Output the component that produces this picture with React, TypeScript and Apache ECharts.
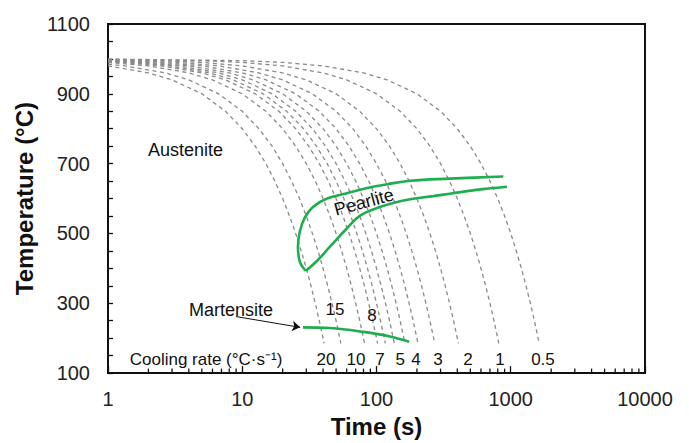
import React, { useEffect, useRef } from 'react';
import * as echarts from 'echarts';

const FONT = 'Arial, "Liberation Sans", Helvetica, sans-serif';

// Cooling rates (°C/s) of the dashed curves
const coolingRates = [20, 15, 10, 8, 7, 6, 5, 4, 3, 2, 1, 0.5];

// Dashed cooling curves, [time (s), temperature (°C)]
const curve20 = [[1, 980], [2, 960], [3, 940], [5, 900], [7.5, 850], [10, 800], [12.5, 750], [15, 700], [17.5, 650], [20, 600], [22.5, 550], [25, 500], [27.5, 450], [30, 400], [32.5, 350], [35, 300], [37.5, 250], [40.75, 185]];
const curve15 = [[1, 985], [1.33, 980], [2.67, 960], [4, 940], [6.67, 900], [10, 850], [13.3, 800], [16.7, 750], [20, 700], [23.3, 650], [26.7, 600], [30, 550], [33.3, 500], [36.7, 450], [40, 400], [43.3, 350], [46.7, 300], [50, 250], [54.3, 185]];
const curve10 = [[1, 990], [2, 980], [4, 960], [6, 940], [10, 900], [15, 850], [20, 800], [25, 750], [30, 700], [35, 650], [40, 600], [45, 550], [50, 500], [55, 450], [60, 400], [65, 350], [70, 300], [75, 250], [81.5, 185]];
const curve8 = [[1, 992], [1.25, 990], [2.5, 980], [5, 960], [7.5, 940], [12.5, 900], [18.75, 850], [25, 800], [31.25, 750], [37.5, 700], [43.75, 650], [50, 600], [56.25, 550], [62.5, 500], [68.75, 450], [75, 400], [81.25, 350], [87.5, 300], [93.75, 250], [101.9, 185]];
const curve7 = [[1, 993], [1.43, 990], [2.86, 980], [5.71, 960], [8.57, 940], [14.3, 900], [21.4, 850], [28.6, 800], [35.7, 750], [42.9, 700], [50, 650], [57.1, 600], [64.3, 550], [71.4, 500], [78.6, 450], [85.7, 400], [92.9, 350], [100, 300], [107.1, 250], [116.4, 185]];
const curve6 = [[1, 994], [1.67, 990], [3.33, 980], [6.67, 960], [10, 940], [16.7, 900], [25, 850], [33.3, 800], [41.7, 750], [50, 700], [58.3, 650], [66.7, 600], [75, 550], [83.3, 500], [91.7, 450], [100, 400], [108.3, 350], [116.7, 300], [125, 250], [135.8, 185]];
const curve5 = [[1, 995], [2, 990], [4, 980], [8, 960], [12, 940], [20, 900], [30, 850], [40, 800], [50, 750], [60, 700], [70, 650], [80, 600], [90, 550], [100, 500], [110, 450], [120, 400], [130, 350], [140, 300], [150, 250], [163, 185]];
const curve4 = [[1, 996], [1.25, 995], [2.5, 990], [5, 980], [10, 960], [15, 940], [25, 900], [37.5, 850], [50, 800], [62.5, 750], [75, 700], [87.5, 650], [100, 600], [112.5, 550], [125, 500], [137.5, 450], [150, 400], [162.5, 350], [175, 300], [187.5, 250], [203.75, 185]];
const curve3 = [[1, 997], [1.67, 995], [3.33, 990], [6.67, 980], [13.3, 960], [20, 940], [33.3, 900], [50, 850], [66.7, 800], [83.3, 750], [100, 700], [116.7, 650], [133.3, 600], [150, 550], [166.7, 500], [183.3, 450], [200, 400], [216.7, 350], [233.3, 300], [250, 250], [271.7, 185]];
const curve2 = [[1, 998], [2.5, 995], [5, 990], [10, 980], [20, 960], [30, 940], [50, 900], [75, 850], [100, 800], [125, 750], [150, 700], [175, 650], [200, 600], [225, 550], [250, 500], [275, 450], [300, 400], [325, 350], [350, 300], [375, 250], [407.5, 185]];
const curve1 = [[1, 999], [5, 995], [10, 990], [20, 980], [40, 960], [60, 940], [100, 900], [150, 850], [200, 800], [250, 750], [300, 700], [350, 650], [400, 600], [450, 550], [500, 500], [550, 450], [600, 400], [650, 350], [700, 300], [750, 250], [815, 185]];
const curve05 = [[1, 999.5], [10, 995], [20, 990], [40, 980], [80, 960], [120, 940], [200, 900], [300, 850], [400, 800], [500, 750], [600, 700], [700, 650], [800, 600], [900, 550], [1000, 500], [1100, 450], [1200, 400], [1300, 350], [1400, 300], [1500, 250], [1630, 185]];
const coolingCurves = [curve20, curve15, curve10, curve8, curve7, curve6, curve5, curve4, curve3, curve2, curve1, curve05];

// Pearlite transformation region (start + finish lines, joined at the nose)
const pearliteStart = [[880, 663], [353, 657], [178, 651], [120, 641], [85, 630], [60.3, 615], [42.8, 600], [33.6, 576], [29.3, 546], [26.9, 507], [26.0, 462], [26.9, 418], [29.8, 393]];
const pearliteFinish = [[29.8, 393], [36.0, 421], [45, 462], [60.3, 515], [75.4, 551], [101, 573], [133, 587], [178, 598], [264, 607], [353, 614], [621, 627], [938, 634]];

// Martensite start line
const martensiteLine = [[28.3, 231], [45, 229], [80, 218], [126, 205], [175, 190]];
const martensiteArrow = [[8.98, 262], [27.0, 231]];

// Text annotations
const regionLabels = [
  { name: 'Austenite', value: [3.78, 740] },
  { name: 'Martensite', value: [8.24, 282] },
];
const pearliteLabel = [{ name: 'Pearlite', value: [80.7, 590] }];
const rateLabelsBottom = ['20', '10', '7', '5', '4', '3', '2', '1', '0.5'];
const rateLabelTimesBottom = [42, 70.4, 106, 150, 197, 287, 481, 832, 1738];
const rateLabelTempBottom = 139;
const rateLabelsUpper = ['15', '8'];
const rateLabelTimesUpper = [49.1, 92.5];
const rateLabelTempsUpper = [282, 265];
const coolingRateTitle = [{ name: 'Cooling rate (°C·s⁻¹)', value: [5.37, 139] }];

// Axis ticks
const yMin = 100;
const yMax = 1100;
const yTickStep = 50;
const yLabelStep = 200;
const xMinorTicks = [2, 3, 4, 5, 6, 7, 8, 9, 20, 30, 40, 50, 60, 70, 80, 90, 200, 300, 400, 500, 600, 700, 800, 900, 2000, 3000, 4000, 5000, 6000, 7000, 8000, 9000];

const GREEN = '#1fae4f';
const TEXT = '#111111';

export default function App() {
  const ref = useRef<HTMLDivElement>(null);

  useEffect(() => {
    if (!ref.current) return;
    const chart = echarts.init(ref.current, undefined, { renderer: 'svg' });

    const dashedSeries = coolingCurves.map((pts, i) => ({
      type: 'line',
      name: 'rate ' + coolingRates[i],
      data: pts,
      showSymbol: false,
      symbol: 'none',
      lineStyle: { color: '#8a8a8a', width: 1.3, type: [4, 3.5] },
      silent: true,
      z: 2,
    }));

    const textSeries = (data: any[], fontSize: number, rotate = 0) => ({
      type: 'scatter',
      data,
      symbolSize: 0,
      silent: true,
      z: 6,
      itemStyle: { opacity: 1 },
      label: {
        show: true,
        position: [0, 0],
        align: 'center',
        verticalAlign: 'middle',
        formatter: '{b}',
        color: TEXT,
        opacity: 1,
        textBorderWidth: 0,
        fontSize,
        fontFamily: FONT,
        rotate,
      },
    });

    chart.setOption({
      animation: false,
      backgroundColor: '#ffffff',
      grid: {
        left: 108,
        right: 44,
        top: 24,
        bottom: 61,
        show: true,
        borderColor: '#111',
        borderWidth: 2,
        backgroundColor: 'transparent',
      },
      xAxis: {
        type: 'log',
        logBase: 10,
        min: 1,
        max: 10000,
        name: 'Time (s)',
        nameLocation: 'middle',
        nameGap: 38,
        nameTextStyle: { fontSize: 24, fontWeight: 'bold', color: '#111', fontFamily: FONT },
        axisLine: { lineStyle: { color: '#111', width: 2 } },
        axisTick: { inside: true, length: 7, lineStyle: { color: '#111', width: 1.3 } },
        axisLabel: { fontSize: 20, color: '#222', fontFamily: FONT, margin: 16, formatter: (v: number) => String(v) },
        splitLine: { show: false },
      },
      yAxis: {
        type: 'value',
        min: yMin,
        max: yMax,
        interval: yTickStep,
        name: 'Temperature (°C)',
        nameLocation: 'middle',
        nameRotate: 90,
        nameGap: 68,
        nameTextStyle: { fontSize: 24, fontWeight: 'bold', color: '#111', fontFamily: FONT },
        axisLine: { lineStyle: { color: '#111', width: 2 } },
        axisTick: { inside: true, length: 5, lineStyle: { color: '#111', width: 1.3 } },
        axisLabel: {
          fontSize: 20,
          color: '#222',
          fontFamily: FONT,
          margin: 18,
          formatter: (v: number) => ((v - yMin) % yLabelStep === 0 ? String(v) : ''),
        },
        splitLine: { show: false },
      },
      series: [
        ...dashedSeries,
        {
          type: 'line',
          data: pearliteStart,
          showSymbol: false,
          symbol: 'none',
          smooth: 0.4,
          lineStyle: { color: GREEN, width: 2.6 },
          silent: true,
          z: 4,
        },
        {
          type: 'line',
          data: pearliteFinish,
          showSymbol: false,
          symbol: 'none',
          smooth: 0.4,
          lineStyle: { color: GREEN, width: 2.6 },
          silent: true,
          z: 4,
        },
        {
          type: 'line',
          data: martensiteLine,
          showSymbol: false,
          symbol: 'none',
          smooth: 0.4,
          lineStyle: { color: GREEN, width: 2.6 },
          silent: true,
          z: 4,
        },
        {
          type: 'lines',
          coordinateSystem: 'cartesian2d',
          data: [{ coords: martensiteArrow }],
          symbol: ['none', 'arrow'],
          symbolSize: 8,
          lineStyle: { color: '#111', width: 1, opacity: 1 },
          silent: true,
          z: 5,
        },
        {
          type: 'custom',
          data: xMinorTicks.map((t) => [t, yMin]),
          silent: true,
          clip: false,
          z: 10,
          renderItem: (params: any, api: any) => {
            const p = api.coord([api.value(0), api.value(1)]);
            return {
              type: 'line',
              shape: { x1: p[0], y1: p[1], x2: p[0], y2: p[1] - 4.5 },
              style: { stroke: '#111', lineWidth: 1.3 },
            };
          },
        },
        textSeries(regionLabels, 18),
        textSeries(pearliteLabel, 18, 15),
        textSeries(coolingRateTitle, 17),
        textSeries(
          rateLabelsBottom.map((n, i) => ({ name: n, value: [rateLabelTimesBottom[i], rateLabelTempBottom] })),
          17
        ),
        textSeries(
          rateLabelsUpper.map((n, i) => ({ name: n, value: [rateLabelTimesUpper[i], rateLabelTempsUpper[i]] })),
          17
        ),
      ],
    });

    return () => chart.dispose();
  }, []);

  return (
    <div
      ref={ref}
      style={{ position: 'fixed', left: 0, top: 0, width: 689, height: 443, background: '#fff' }}
    />
  );
}
